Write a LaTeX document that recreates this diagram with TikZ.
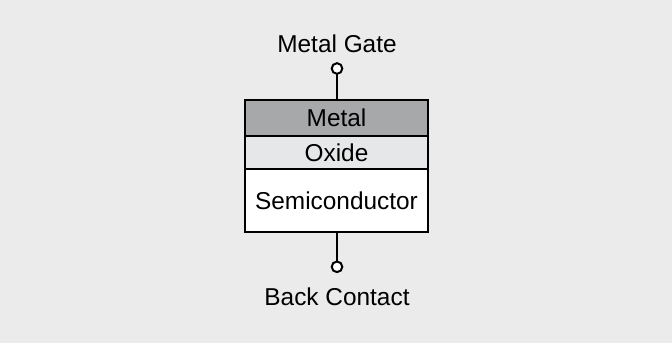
\documentclass[tikz,border=0pt]{standalone}
\usepackage{fontspec}
\setmainfont{Liberation Sans}
\usetikzlibrary{positioning}
\definecolor{Backdrop}{HTML}{EBEBEB}
\definecolor{MetalGray}{HTML}{A7A8AA}
\definecolor{OxideGray}{HTML}{E6E7E8}

\begin{document}
\begin{tikzpicture}[
    x=0.5pt,y=-0.5pt,
    layer/.style={draw=black, line width=1pt, outer sep=0pt, inner sep=0pt,
      minimum width=91.5pt, font=\fontsize{12.2}{14}\selectfont},
    term/.style={circle, draw=black, fill=white, line width=1pt,
      minimum size=5.3pt, inner sep=0pt, outer sep=0pt},
    lbl/.style={anchor=base, inner sep=0pt, font=\fontsize{12.2}{14}\selectfont},
    link/.style={line width=1pt}
  ]
    \fill[Backdrop] (0,0) rectangle (672,343);
    \useasboundingbox (0,0) rectangle (672,343);

    \node[layer, fill=MetalGray, minimum height=18pt] (metal) at (336.5,118) {Metal};
    \node[layer, fill=OxideGray, minimum height=16.5pt, below=0pt of metal] (oxide) {Oxide};
    \node[layer, fill=white, minimum height=31.5pt, below=0pt of oxide] (semi) {Semiconductor};

    \node[term] (gate) at (337,68.5) {};
    \node[term] (back) at (337,266.8) {};

    \node[lbl] (gatelbl) at (337,52.3) {Metal Gate};
    \node[lbl] (backlbl) at (337,305) {Back Contact};

    \draw[link] (gate.south) -- (gate.south |- metal.north);
    \draw[link] (back.north |- semi.south) -- (back.north);
  \end{tikzpicture}
\end{document}
